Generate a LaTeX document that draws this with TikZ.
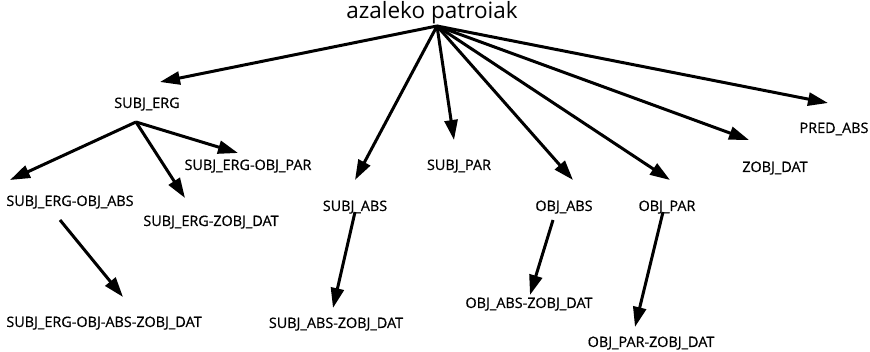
\documentclass[tikz,border=0pt]{standalone}
\usepackage{fontspec}
\setmainfont{Open Sans}
\newfontfamily\lblfont{Open Sans}[FakeBold=0.7]
\usetikzlibrary{arrows.meta}

\begin{document}
\begin{tikzpicture}[x=1pt,y=-1pt]
\tikzset{l/.style={inner sep=0pt,text height=10pt,text depth=0pt,font=\lblfont\fontsize{14.4}{16}\selectfont},a/.style={-{Triangle[length=20pt,width=13pt]},line width=3pt}}
\useasboundingbox (0,0) rectangle (870,352);
% root and first level
\node[inner sep=0pt,font=\fontsize{22.5}{26}\selectfont] (r) at (432,13) {azaleko patroiak};
\coordinate (o) at (437,26);
\node[l] (erg) at (147,103) {SUBJ\_ERG};
\node[l] (sabs) at (355,206) {SUBJ\_ABS};
\node[l] (spar) at (459,165) {SUBJ\_PAR};
\node[l] (oabs) at (564,206) {OBJ\_ABS};
\node[l] (opar) at (667,206) {OBJ\_PAR};
\node[l] (zdat) at (775,167) {ZOBJ\_DAT};
\node[l] (pabs) at (834,128) {PRED\_ABS};
% second and third level
\node[l] (eoa) at (70,201) {SUBJ\_ERG-OBJ\_ABS};
\node[l] (ezd) at (211,221) {SUBJ\_ERG-ZOBJ\_DAT};
\node[l] (eop) at (248,165) {SUBJ\_ERG-OBJ\_PAR};
\node[l] (eoaz) at (104,322) {SUBJ\_ERG-OBJ-ABS-ZOBJ\_DAT};
\node[l] (saz) at (336,323) {SUBJ\_ABS-ZOBJ\_DAT};
\node[l] (oaz) at (529,303) {OBJ\_ABS-ZOBJ\_DAT};
\node[l] (opz) at (651,342) {OBJ\_PAR-ZOBJ\_DAT};
% edges
\draw[a](o)--([shift={(13,-21)}]erg.center);\draw[a](o)--([shift={(0,-26)}]sabs.center);
\draw[a](o)--([shift={(-5,-25)}]spar.center);\draw[a](o)--([shift={(9,-26)}]oabs.center);
\draw[a](o)--([shift={(3,-26)}]opar.center);\draw[a](o)--([shift={(-26,-27)}]zdat.center);
\draw[a](o)--([shift={(-6,-25)}]pabs.center);
\draw[a]([shift={(-11,19)}]erg.center)--([shift={(-60,-21)}]eoa.center);
\draw[a]([shift={(-11,19)}]erg.center)--([shift={(-26,-23)}]ezd.center);
\draw[a]([shift={(-11,19)}]erg.center)--([shift={(-10,-12)}]eop.center);
\draw[a]([shift={(-10,19)}]eoa.center)--([shift={(19,-25)}]eoaz.center);
\draw[a]([shift={(0,6)}]sabs.center)--([shift={(-3,-15)}]saz.center);
\draw[a]([shift={(-11,14)}]oabs.center)--([shift={(1,-8)}]oaz.center);
\draw[a]([shift={(-4,6)}]opar.center)--([shift={(-16,-15)}]opz.center);
\end{tikzpicture}
\end{document}
